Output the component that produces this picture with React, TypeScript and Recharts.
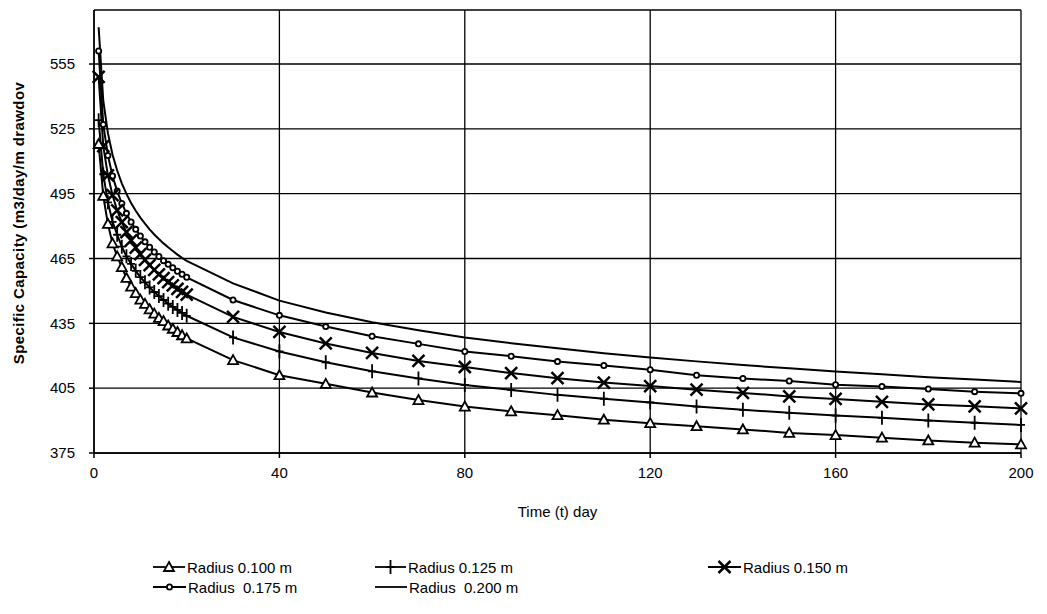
import React from "react";
import { LineChart, Line, XAxis, YAxis, CartesianGrid, Legend } from "recharts";

// time in days: daily up to 20, then every 10 days
const days = [
  1, 2, 3, 4, 5, 6, 7, 8, 9, 10, 11, 12, 13, 14, 15, 16, 17, 18, 19, 20,
  30, 40, 50, 60, 70, 80, 90, 100, 110, 120, 130, 140, 150, 160, 170, 180, 190, 200,
];

const radius100 = [
  518, 494, 481, 472, 466, 461, 456, 452, 449, 446, 444, 441.5, 439.5, 437.5, 436, 434, 432.5, 431, 429.5, 428,
  418, 411, 407, 403, 399.5, 396.5, 394.3, 392.5, 390.4, 388.8, 387.4, 385.9, 384.3, 383.3, 382.1, 380.8, 379.8, 379,
];
const radius125 = [
  529, 504, 491, 482, 476, 470.5, 466, 462.5, 459.3, 456.4, 454, 451.6, 449.5, 447.6, 445.8, 444.1, 442.6, 441.2, 439.8, 438.5,
  428.5, 422, 417, 412.8, 409.5, 406.5, 404.2, 401.9, 400.1, 398.4, 396.5, 395, 393.6, 392.3, 391.3, 390, 389, 388,
];
const radius150 = [
  549, 517, 503.5, 494.3, 487.3, 481.8, 477.2, 473.4, 470, 467, 464.4, 461.9, 459.7, 457.7, 455.9, 454.1, 452.6, 451, 449.6, 448.3,
  438, 431, 425.7, 421.3, 417.6, 414.8, 412, 409.6, 407.6, 406, 404.3, 402.8, 401.2, 400, 398.7, 397.5, 396.6, 395.6,
];
const radius175 = [
  561, 527, 512.7, 503.2, 496.2, 490.5, 485.9, 481.9, 478.5, 475.4, 472.7, 470.2, 468, 465.9, 464, 462.3, 460.7, 459.1, 457.7, 456.3,
  445.8, 438.7, 433.5, 429, 425.5, 422, 419.8, 417.3, 415.5, 413.5, 411, 409.5, 408.3, 406.6, 405.8, 404.6, 403.4, 402.6,
];
const radius200 = [
  572, 538, 523, 513, 505.7, 499.8, 494.9, 490.7, 487.1, 483.9, 481.1, 478.5, 476.1, 474, 472, 470.2, 468.5, 466.8, 465.3, 463.9,
  453.5, 445.5, 440, 435.5, 431.8, 428.5, 425.8, 423.5, 421.2, 419.2, 417.4, 415.7, 414.2, 412.7, 411.4, 410.1, 409, 407.9,
];

const xTicks = [0, 40, 80, 120, 160, 200];
const yTicks = [375, 405, 435, 465, 495, 525, 555];

const data = days.map((t, i) => ({
  t,
  r100: radius100[i],
  r125: radius125[i],
  r150: radius150[i],
  r175: radius175[i],
  r200: radius200[i],
}));

const FONT = "'Liberation Sans', Arial, sans-serif";

const TriangleDot = (p: any) => {
  const { cx, cy } = p;
  if (cx == null || cy == null) return <g key={p.key} />;
  return (
    <path
      key={p.key}
      d={`M${cx},${cy - 5} L${cx + 5},${cy + 4} L${cx - 5},${cy + 4} Z`}
      fill="#fff"
      stroke="#000"
      strokeWidth={1.8}
    />
  );
};

const PlusDot = (p: any) => {
  const { cx, cy } = p;
  if (cx == null || cy == null) return <g key={p.key} />;
  return (
    <path
      key={p.key}
      d={`M${cx},${cy - 7} L${cx},${cy + 7} M${cx - 4},${cy} L${cx + 4},${cy}`}
      stroke="#000"
      strokeWidth={1.8}
    />
  );
};

const CrossDot = (p: any) => {
  const { cx, cy } = p;
  if (cx == null || cy == null) return <g key={p.key} />;
  return (
    <path
      key={p.key}
      d={`M${cx - 6},${cy - 6} L${cx + 6},${cy + 6} M${cx - 6},${cy + 6} L${cx + 6},${cy - 6}`}
      stroke="#000"
      strokeWidth={2.5}
    />
  );
};

const CircleDot = (p: any) => {
  const { cx, cy } = p;
  if (cx == null || cy == null) return <g key={p.key} />;
  return <circle key={p.key} cx={cx} cy={cy} r={2.6} fill="#fff" stroke="#000" strokeWidth={1.8} />;
};

const legendItems = [
  { label: "Radius 0.100 m", x: 153, y: 567, w: 32, marker: "tri" },
  { label: "Radius 0.125 m", x: 375, y: 567, w: 31, marker: "plus" },
  { label: "Radius 0.150 m", x: 708, y: 567, w: 33, marker: "cross" },
  { label: "Radius  0.175 m", x: 153, y: 587, w: 33, marker: "circle" },
  { label: "Radius  0.200 m", x: 375, y: 587, w: 32, marker: "none" },
];

function LegendMarker({ kind, w }: { kind: string; w: number }) {
  const c = w / 2;
  return (
    <svg width={w} height={16} style={{ display: "block" }}>
      <line x1={0} y1={8} x2={w} y2={8} stroke="#000" strokeWidth={1.8} />
      {kind === "tri" && <TriangleDot cx={c} cy={8} />}
      {kind === "plus" && <PlusDot cx={c} cy={8} />}
      {kind === "cross" && <CrossDot cx={c} cy={8} />}
      {kind === "circle" && <CircleDot cx={c} cy={8} />}
    </svg>
  );
}

const renderLegend = () => (
  <div style={{ position: "relative", width: 1047, height: 50 }}>
    {legendItems.map((it) => (
      <div
        key={it.label}
        style={{
          position: "absolute",
          left: it.x,
          top: it.y - 555 - 8,
          display: "flex",
          alignItems: "center",
          height: 16,
          fontFamily: FONT,
          fontSize: 15,
          color: "#000",
          whiteSpace: "pre",
        }}
      >
        <LegendMarker kind={it.marker} w={it.w} />
        <span style={{ marginLeft: 2 }}>{it.label}</span>
      </div>
    ))}
  </div>
);

export default function App() {
  return (
    <div style={{ position: "absolute", left: 0, top: 0, width: 1047, height: 614, background: "#fff" }}>
      <LineChart
        width={1047}
        height={614}
        data={data}
        margin={{ top: 10, right: 26, left: 0, bottom: 81 }}
      >
        <CartesianGrid stroke="#000" strokeWidth={1.3} vertical horizontal />
        <XAxis
          dataKey="t"
          type="number"
          domain={[0, 200]}
          ticks={xTicks}
          interval={0}
          height={80}
          tickSize={5}
          tickMargin={9}
          stroke="#000"
          strokeWidth={1.5}
          tick={{ fill: "#000", fontSize: 15, fontFamily: FONT }}
          label={{
            content: ({ viewBox }: any) => (
              <text
                x={viewBox.x + viewBox.width / 2}
                y={viewBox.y + 64}
                textAnchor="middle"
                fontFamily={FONT}
                fontSize={15}
                fill="#000"
                style={{ fill: "#000" }}
              >
                Time (t) day
              </text>
            ),
          }}
        />
        <YAxis
          type="number"
          domain={[375, 580]}
          ticks={yTicks}
          interval={0}
          width={94}
          tickSize={5}
          tickMargin={14}
          stroke="#000"
          strokeWidth={1.5}
          tick={{ fill: "#000", fontSize: 15, fontFamily: FONT }}
          label={{
            content: () => (
              <text
                x={0}
                y={0}
                transform="translate(18, 223) rotate(-90)"
                textAnchor="middle"
                dominantBaseline="central"
                fontFamily={FONT}
                fontSize={15}
                fontWeight="bold"
                letterSpacing={0.4}
                fill="#000"
                style={{ fill: "#000" }}
              >
                Specific Capacity (m3/day/m drawdov
              </text>
            ),
          }}
        />
        <Line dataKey="r200" type="linear" stroke="#000" strokeWidth={2} dot={false} isAnimationActive={false} />
        <Line dataKey="r175" type="linear" stroke="#000" strokeWidth={2} dot={CircleDot} isAnimationActive={false} />
        <Line dataKey="r150" type="linear" stroke="#000" strokeWidth={2} dot={CrossDot} isAnimationActive={false} />
        <Line dataKey="r125" type="linear" stroke="#000" strokeWidth={2} dot={PlusDot} isAnimationActive={false} />
        <Line dataKey="r100" type="linear" stroke="#000" strokeWidth={2} dot={TriangleDot} isAnimationActive={false} />
        <Legend
          layout="horizontal"
          verticalAlign="middle"
          content={renderLegend}
          wrapperStyle={{ position: "absolute", left: 0, top: 555, width: 1047 }}
        />
      </LineChart>
    </div>
  );
}
